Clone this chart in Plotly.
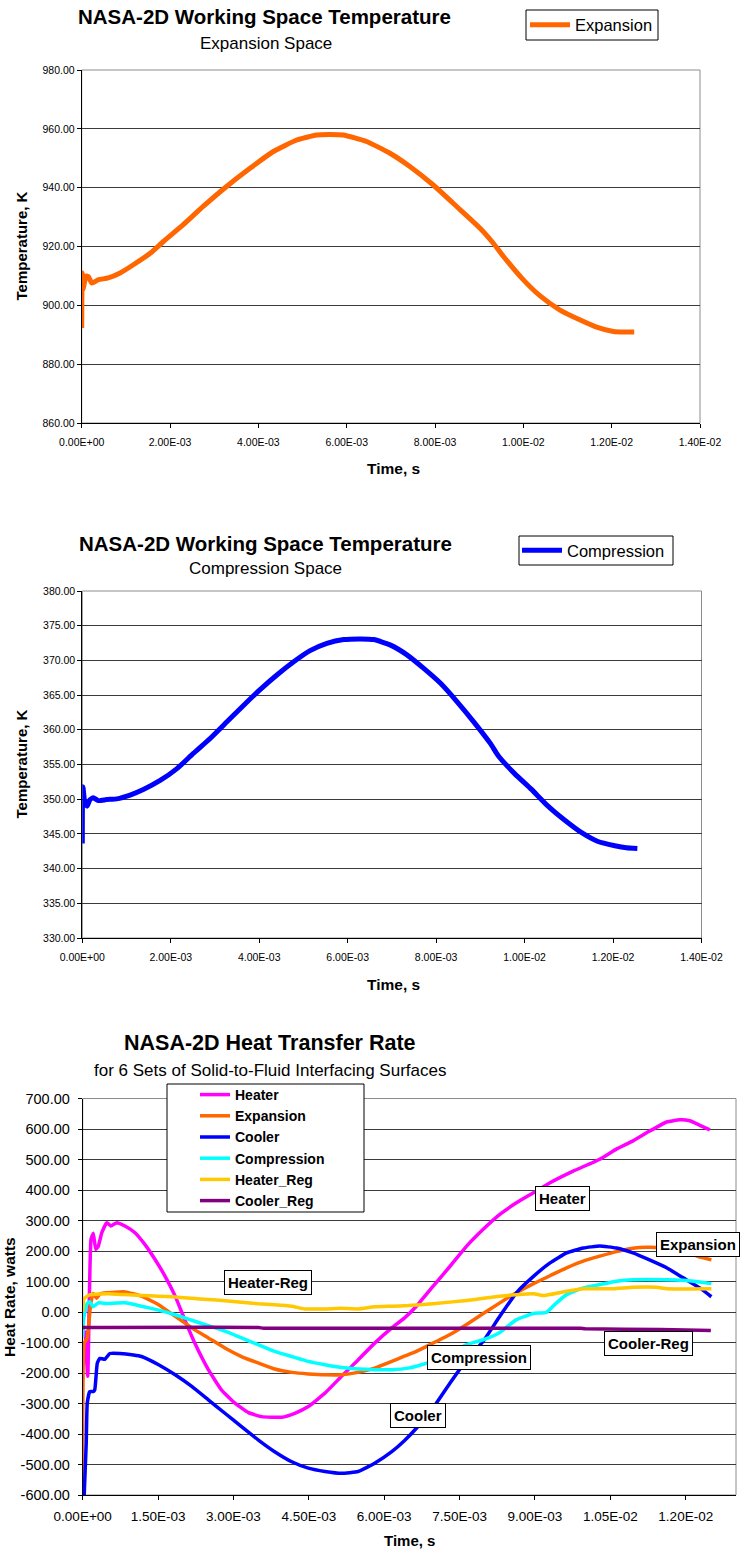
import plotly.graph_objects as go

W, H = 743, 1549
FONT = "Liberation Sans, Arial, sans-serif"


def px(x):
    return x / W


def py(y):
    return 1 - y / H


# ---------------- Chart 1: Expansion space temperature ----------------
exp_time_ms = [0.0, 0.01, 0.03, 0.1, 0.15, 0.23, 0.38, 0.6, 0.87, 1.17, 1.55, 1.85, 2.30, 2.75,
               3.28, 3.81, 4.34, 4.87, 5.32, 5.60, 5.92, 6.45, 6.98, 7.43, 7.96, 8.49, 9.02,
               9.32, 9.55, 9.98, 10.38, 10.83, 11.29, 11.66, 12.04, 12.30, 12.51]
exp_temp_K = [892.3, 911.0, 905.5, 910.0, 909.8, 907.6, 908.7, 909.3, 911.0, 913.8, 917.7, 921.7,
              927.4, 933.6, 940.4, 946.6, 952.3, 956.2, 957.9, 958.1, 957.9, 955.7, 951.7, 947.2,
              940.9, 933.6, 926.2, 921.1, 916.6, 909.0, 903.2, 898.4, 895.0, 892.6, 891.1, 890.9,
              890.9]

# ---------------- Chart 2: Compression space temperature ----------------
comp_time_ms = [0.0, 0.01, 0.02, 0.06, 0.11, 0.17, 0.25, 0.36, 0.55, 0.78, 1.08, 1.38, 1.76, 2.14,
                2.51, 2.89, 3.27, 3.65, 4.02, 4.40, 4.78, 5.15, 5.53, 5.91, 6.29, 6.59, 6.97, 7.34,
                7.72, 8.10, 8.48, 8.85, 9.23, 9.40, 9.78, 10.15, 10.53, 10.91, 11.29, 11.66, 12.04,
                12.30, 12.55]
comp_temp_K = [343.6, 351.8, 351.5, 349.4, 349.0, 349.9, 350.2, 349.8, 349.95, 350.05, 350.6, 351.4,
               352.7, 354.4, 356.6, 358.75, 361.15, 363.55, 365.8, 367.9, 369.8, 371.4, 372.45,
               373.0, 373.1, 373.0, 372.2, 370.8, 368.85, 366.7, 364.0, 361.15, 358.0, 356.3,
               353.65, 351.45, 349.0, 346.96, 345.17, 343.9, 343.3, 343.0, 342.9]

# ---------------- Chart 3: heat transfer rates ----------------
heater_t_ms = [0.05, 0.10, 0.165, 0.21, 0.26, 0.31, 0.38, 0.48, 0.56, 0.68, 0.84, 1.04, 1.24, 1.44,
               1.64, 1.84, 2.03, 2.23, 2.50, 2.76, 3.03, 3.30, 3.56, 3.96, 4.22, 4.49, 4.82, 5.15,
               5.48, 5.81, 6.15, 6.40, 6.64, 6.97, 7.31, 7.64, 7.97, 8.30, 8.63, 8.97, 9.30, 9.76,
               10.29, 10.62, 10.95, 11.29, 11.62, 11.88, 12.08, 12.28, 12.48]
heater_W = [-60, -211, 238, 258, 205, 216, 260, 293, 282, 293, 282, 260, 221, 172, 117, 52, -25,
            -102, -189, -255, -299, -330, -343, -345, -332, -310, -266, -211, -157, -102, -52, -20,
            19, 84, 150, 216, 271, 320, 358, 391, 424, 462, 501, 534, 561, 594, 623, 630, 627, 612,
            597]

expansion_t_ms = [0.0, 0.03, 0.09, 0.16, 0.21, 0.28, 0.34, 0.48, 0.84, 1.17, 1.51, 1.84, 2.17, 2.50,
                  2.83, 3.16, 3.49, 3.82, 4.16, 4.49, 4.82, 5.15, 5.48, 5.81, 6.15, 6.40, 6.64, 6.97,
                  7.31, 7.64, 7.97, 8.30, 8.63, 8.97, 9.30, 9.63, 9.96, 10.29, 10.62, 10.95, 11.22,
                  11.50, 11.80, 12.05, 12.25, 12.51]
expansion_W = [-600, -103, -86, 28, 61, 45, 59, 63, 66, 52, 24, -14, -52, -85, -118, -146, -167,
               -187, -198, -203, -206, -206, -198, -184, -162, -145, -129, -102, -74, -41, -5, 30,
               63, 93, 119, 145, 167, 183, 198, 209, 212, 211, 204, 193, 182, 171]

cooler_t_ms = [0.03, 0.07, 0.09, 0.14, 0.21, 0.24, 0.29, 0.34, 0.44, 0.54, 0.74, 1.01, 1.17, 1.51,
               1.84, 2.17, 2.50, 2.83, 3.16, 3.49, 3.82, 4.16, 4.49, 4.82, 5.15, 5.48, 5.81, 6.15,
               6.40, 6.64, 6.97, 7.31, 7.64, 7.97, 8.30, 8.63, 8.97, 9.30, 9.63, 9.96, 10.29, 10.62,
               10.95, 11.29, 11.62, 11.95, 12.28, 12.51]
cooler_W = [-600, -431, -300, -261, -261, -255, -168, -152, -155, -136, -136, -141, -146, -173,
            -206, -244, -288, -332, -376, -419, -458, -491, -512, -523, -529, -523, -496, -458,
            -422, -381, -315, -233, -157, -96, -14, 63, 117, 161, 194, 210, 216, 210, 194, 170,
            145, 112, 79, 50]

compression_t_ms = [0.0, 0.02, 0.09, 0.14, 0.21, 0.31, 0.48, 0.84, 1.17, 1.51, 1.84, 2.17, 2.50,
                    2.83, 3.16, 3.49, 3.82, 4.16, 4.49, 4.82, 5.15, 5.48, 5.81, 6.15, 6.48, 6.64,
                    6.97, 7.31, 7.64, 7.97, 8.30, 8.63, 8.97, 9.23, 9.43, 9.63, 9.96, 10.29, 10.62,
                    10.95, 11.62, 11.95, 12.28, 12.51]
compression_W = [-81, -20, 28, 34, 17, 30, 28, 30, 19, 6, -9, -27, -45, -63, -85, -107, -129, -146,
                 -162, -173, -182, -187, -189, -189, -184, -178, -160, -135, -107, -91, -67, -25,
                 -5, -1, 30, 57, 79, 90, 101, 106, 106, 104, 98, 93]

heater_reg_t_ms = [0.0, 0.03, 0.14, 0.34, 0.51, 0.84, 1.17, 1.51, 1.84, 2.17, 2.50, 2.83, 3.16,
                   3.49, 3.82, 4.16, 4.42, 4.82, 5.15, 5.48, 5.81, 6.15, 6.48, 6.97, 7.64, 8.30,
                   8.97, 9.16, 9.63, 9.96, 10.56, 10.95, 11.42, 11.62, 12.51]
heater_reg_W = [0, 45, 56, 59, 60, 57, 54, 52, 49, 45, 41, 37, 32, 27, 24, 19, 10, 10, 12, 10, 17,
                19, 21, 27, 38, 52, 60, 54, 68, 76, 76, 81, 81, 76, 76]

cooler_reg_t_ms = [0.0, 3.5, 3.6, 9.9, 10.0, 11.5, 12.5]
cooler_reg_W = [-51, -51, -53, -53, -55, -57, -61]

# ---------------- tick labels ----------------
x12_tickvals = [0.0, 0.002, 0.004, 0.006, 0.008, 0.010, 0.012, 0.014]
x12_ticktext = ["0.00E+00", "2.00E-03", "4.00E-03", "6.00E-03", "8.00E-03", "1.00E-02",
                "1.20E-02", "1.40E-02"]
y1_tickvals = [860, 880, 900, 920, 940, 960, 980]
y1_ticktext = ["860.00", "880.00", "900.00", "920.00", "940.00", "960.00", "980.00"]
y2_tickvals = [330, 335, 340, 345, 350, 355, 360, 365, 370, 375, 380]
y2_ticktext = ["330.00", "335.00", "340.00", "345.00", "350.00", "355.00", "360.00", "365.00",
               "370.00", "375.00", "380.00"]
x3_tickvals = [0.0, 0.0015, 0.003, 0.0045, 0.006, 0.0075, 0.009, 0.0105, 0.012]
x3_ticktext = ["0.00E+00", "1.50E-03", "3.00E-03", "4.50E-03", "6.00E-03", "7.50E-03",
               "9.00E-03", "1.05E-02", "1.20E-02"]
y3_tickvals = [-600, -500, -400, -300, -200, -100, 0, 100, 200, 300, 400, 500, 600, 700]
y3_ticktext = ["-600.00", "-500.00", "-400.00", "-300.00", "-200.00", "-100.00", "0.00",
               "100.00", "200.00", "300.00", "400.00", "500.00", "600.00", "700.00"]


def sec(ms_list):
    return [v * 1e-3 for v in ms_list]


fig = go.Figure()

fig.add_trace(go.Scatter(x=sec(exp_time_ms), y=exp_temp_K, mode="lines", name="Expansion",
                         line=dict(color="#FF6600", width=5, shape="spline", smoothing=0.5),
                         xaxis="x", yaxis="y", legend="legend"))
fig.add_trace(go.Scatter(x=sec(comp_time_ms), y=comp_temp_K, mode="lines", name="Compression",
                         line=dict(color="#0000FF", width=5, shape="spline", smoothing=0.5),
                         xaxis="x2", yaxis="y2", legend="legend2"))

series3 = [
    ("Heater", heater_t_ms, heater_W, "#FF00FF"),
    ("Expansion", expansion_t_ms, expansion_W, "#FF6600"),
    ("Cooler", cooler_t_ms, cooler_W, "#0000FF"),
    ("Compression", compression_t_ms, compression_W, "#00FFFF"),
    ("Heater_Reg", heater_reg_t_ms, heater_reg_W, "#FFC800"),
    ("Cooler_Reg", cooler_reg_t_ms, cooler_reg_W, "#800080"),
]
for name, t, v, c in series3:
    fig.add_trace(go.Scatter(x=sec(t), y=v, mode="lines", name="<b>" + name + "</b>",
                             line=dict(color=c, width=3.5, shape="spline", smoothing=0.4),
                             xaxis="x3", yaxis="y3", legend="legend3"))


def xaxis_style(dom, anchor, rng, vals, text, fsize):
    return dict(domain=dom, anchor=anchor, range=rng, tickmode="array", tickvals=vals,
                ticktext=text, ticks="outside", ticklen=4, tickcolor="black", tickwidth=1,
                showline=True, linecolor="black", linewidth=1, showgrid=False, zeroline=False,
                automargin=False, tickangle=0, ticklabelstandoff=5,
                tickfont=dict(family=FONT, size=fsize, color="black"), fixedrange=True)


def yaxis_style(dom, anchor, rng, vals, text, fsize, standoff=0):
    return dict(domain=dom, anchor=anchor, range=rng, tickmode="array", tickvals=vals,
                ticktext=text, ticks="outside", ticklen=4, tickcolor="black", tickwidth=1,
                showline=True, linecolor="black", linewidth=1, showgrid=True,
                gridcolor="#3a3a3a", gridwidth=1, zeroline=False, automargin=False,
                ticklabelstandoff=standoff,
                tickfont=dict(family=FONT, size=fsize, color="black"), fixedrange=True)


P1 = (81.7, 700.0, 70.0, 423.0)
P2 = (82.3, 701.5, 591.0, 938.0)
P3 = (82.7, 736.0, 1098.5, 1495.0)

layout_axes = dict(
    xaxis=xaxis_style([px(P1[0]), px(P1[1])], "y", [0, 0.014], x12_tickvals, x12_ticktext, 10.5),
    yaxis=yaxis_style([py(P1[3]), py(P1[2])], "x", [860, 980], y1_tickvals, y1_ticktext, 10.5),
    xaxis2=xaxis_style([px(P2[0]), px(P2[1])], "y2", [0, 0.014], x12_tickvals, x12_ticktext, 10.5),
    yaxis2=yaxis_style([py(P2[3]), py(P2[2])], "x2", [330, 380], y2_tickvals, y2_ticktext, 10.5),
    xaxis3=xaxis_style([px(P3[0]), px(P3[1])], "y3", [0, 0.013], x3_tickvals, x3_ticktext, 13.5),
    yaxis3=yaxis_style([py(P3[3]), py(P3[2])], "x3", [-600, 700], y3_tickvals, y3_ticktext, 14.5,
                       standoff=5),
)

shapes = []
# grey plot-area borders
for (x0, x1, y0, y1) in (P1, P2, P3):
    shapes.append(dict(type="rect", xref="paper", yref="paper", x0=px(x0), x1=px(x1),
                       y0=py(y1), y1=py(y0), line=dict(color="#8c8c8c", width=1),
                       fillcolor="rgba(0,0,0,0)", layer="below"))
# legend boxes
for (x0, x1, y0, y1) in ((526, 658, 10, 40), (519, 673, 536, 565), (167, 364, 1084, 1212)):
    shapes.append(dict(type="rect", xref="paper", yref="paper", x0=px(x0), x1=px(x1),
                       y0=py(y1), y1=py(y0), line=dict(color="black", width=1),
                       fillcolor="white", layer="above"))


def ann(text, x, y, size, bold=False, angle=0, box=False):
    a = dict(text=("<b>%s</b>" % text) if bold else text, x=px(x), y=py(y), xref="paper",
             yref="paper", xanchor="center", yanchor="middle", showarrow=False,
             textangle=angle, font=dict(family=FONT, size=size, color="black"))
    if box:
        a.update(bgcolor="white", bordercolor="black", borderwidth=1, borderpad=3)
    return a


annotations = [
    ann("NASA-2D Working Space Temperature", 264, 17, 20.5, bold=True),
    ann("Expansion Space", 266, 43, 17),
    ann("Temperature, K", 21, 246.5, 15, bold=True, angle=-90),
    ann("Time, s", 393, 468, 15.5, bold=True),
    ann("NASA-2D Working Space Temperature", 265, 543, 20.5, bold=True),
    ann("Compression Space", 265, 568, 17),
    ann("Temperature, K", 21, 764.5, 15, bold=True, angle=-90),
    ann("Time, s", 393, 984, 15.5, bold=True),
    ann("NASA-2D Heat Transfer Rate", 270, 1043, 21.5, bold=True),
    ann("for 6 Sets of Solid-to-Fluid Interfacing Surfaces", 270, 1070, 17),
    ann("Heat Rate, watts", 9, 1297, 15.5, bold=True, angle=-90),
    ann("Time, s", 409, 1540, 15, bold=True),
    ann("Heater", 562.5, 1198, 15, bold=True, box=True),
    ann("Expansion", 698, 1244.5, 15, bold=True, box=True),
    ann("Heater-Reg", 268, 1282.5, 15, bold=True, box=True),
    ann("Cooler-Reg", 648, 1343.5, 15, bold=True, box=True),
    ann("Compression", 479, 1357.5, 15, bold=True, box=True),
    ann("Cooler", 417.5, 1415.5, 15, bold=True, box=True),
]


def legend_style(x, y, size, iw=30):
    return dict(x=px(x), y=py(y), xref="paper", yref="paper", xanchor="left", yanchor="middle",
                bgcolor="rgba(0,0,0,0)", borderwidth=0, tracegroupgap=0, itemwidth=iw,
                font=dict(family=FONT, size=size, color="black"))


fig.update_layout(
    template="none",
    width=W, height=H, autosize=False,
    margin=dict(l=0, r=0, t=0, b=0, pad=0),
    paper_bgcolor="white", plot_bgcolor="white",
    showlegend=True,
    legend=legend_style(525, 25, 16.5, iw=40),
    legend2=legend_style(517, 550.5, 16.5, iw=40),
    legend3=legend_style(195, 1148, 14),
    shapes=shapes,
    annotations=annotations,
    **layout_axes,
)

fig.write_html("out.html", config={"displayModeBar": False},
               post_script="document.body.style.margin='0';document.body.style.overflow='hidden';")
